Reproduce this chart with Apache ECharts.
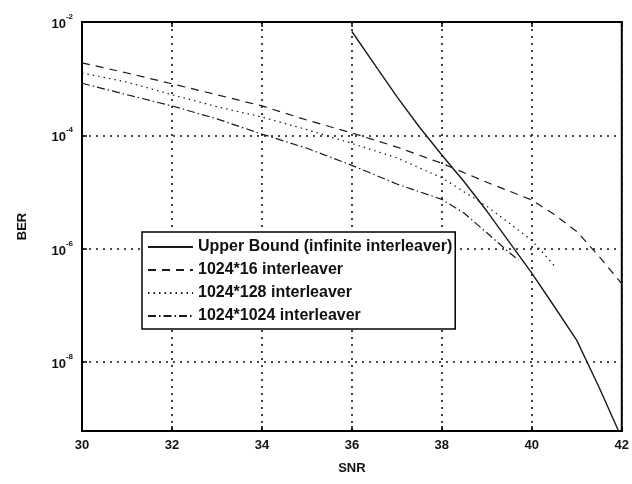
<!DOCTYPE html>
<html>
<head>
<meta charset="utf-8">
<script src="https://cdn.jsdelivr.net/npm/echarts@6/dist/echarts.min.js"></script>
<style>
  html, body { margin: 0; padding: 0; background: #fff; }
  #chart { width: 632px; height: 484px; }
</style>
</head>
<body>
<div id="chart"></div>
<script>
// SNR (dB) sample points and BER
const boundSnr = [36, 36.5, 37, 37.5, 38, 38.5, 39, 39.5, 40, 40.5, 41, 41.5, 42];
const boundBer = [6.8e-3, 1.8e-3, 4.8e-4, 1.4e-4, 4.5e-5, 1.5e-5, 4.6e-6, 1.3e-6, 3.7e-7, 9.5e-8, 2.4e-8, 3.5e-9, 4.5e-10];

const il16Snr = [30, 31, 32, 33, 34, 35, 36, 37, 38, 39, 40, 40.5, 41, 41.5, 42];
const il16Ber = [1.9e-3, 1.26e-3, 8.1e-4, 5.2e-4, 3.3e-4, 1.86e-4, 1.1e-4, 6.2e-5, 3.2e-5, 1.48e-5, 7.2e-6, 4.0e-6, 2.0e-6, 7.2e-7, 2.4e-7];

const il128Snr = [30, 31, 32, 33, 34, 35, 36, 37, 38, 39, 40, 40.5];
const il128Ber = [1.26e-3, 8.7e-4, 5.2e-4, 3.2e-4, 2.1e-4, 1.26e-4, 7.2e-5, 4.0e-5, 1.78e-5, 5.6e-6, 1.4e-6, 5.0e-7];

const il1024Snr = [30, 31, 32, 33, 34, 35, 36, 37, 38, 38.5, 39, 39.5, 39.7];
const il1024Ber = [8.3e-4, 5.2e-4, 3.3e-4, 1.95e-4, 1.05e-4, 5.9e-5, 2.95e-5, 1.38e-5, 7.4e-6, 4.2e-6, 1.9e-6, 8.5e-7, 6.3e-7];

const seriesNames = [
  "Upper Bound (infinite interleaver)",
  "1024*16 interleaver",
  "1024*128 interleaver",
  "1024*1024 interleaver",
];

// y axis runs in log10(BER)
const toPoints = (snr, ber) => snr.map((s, i) => [s, Math.log10(ber[i])]);

const chart = echarts.init(document.getElementById("chart"));

const font = "'Liberation Sans', Arial, sans-serif";
const gridDots = { color: "#111", width: 1.6, type: [2, 5] };

const makeLine = (name, snr, ber, type, width) => ({
  name,
  type: "line",
  data: toPoints(snr, ber),
  showSymbol: false,
  symbol: "none",
  smooth: false,
  itemStyle: { color: "rgba(0,0,0,0)", borderWidth: 0 },
  lineStyle: { color: "#1a1a1a", width, type },
});

const option = {
  backgroundColor: "#fff",
  animation: false,
  textStyle: { fontFamily: font },
  grid: {
    left: 82, right: 10, top: 22, bottom: 53,
    show: true, borderColor: "#000", borderWidth: 2,
  },
  legend: {
    orient: "vertical",
    left: 142,
    top: 232,
    icon: "inherit",
    itemWidth: 45,
    itemHeight: 12,
    itemGap: 7,
    padding: [7, 3, 5, 5],
    backgroundColor: "#fff",
    borderColor: "#000",
    borderWidth: 1.5,
    borderRadius: 0,
    itemStyle: { borderWidth: 0 },
    data: seriesNames,
    textStyle: { fontFamily: font, fontSize: 16, lineHeight: 16, fontWeight: "bold", color: "#111" },
  },
  xAxis: [
    {
      type: "value",
      min: 30, max: 42, interval: 2,
      name: "SNR",
      nameLocation: "middle",
      nameGap: 31,
      nameTextStyle: { fontSize: 13, fontWeight: "bold", color: "#111" },
      axisLine: { lineStyle: { color: "#000", width: 2 } },
      axisTick: { inside: true, length: 5, lineStyle: { color: "#000", width: 1.5 } },
      axisLabel: { fontSize: 13, fontWeight: "bold", color: "#111", margin: 8 },
      splitLine: { show: true, lineStyle: gridDots },
    },
    {
      type: "value",
      position: "top",
      min: 30, max: 42, interval: 2,
      axisLine: { lineStyle: { color: "#000", width: 2 } },
      axisTick: { inside: true, length: 5, lineStyle: { color: "#000", width: 1.5 } },
      axisLabel: { show: false },
      splitLine: { show: false },
    },
  ],
  yAxis: {
    type: "value",
    min: -9.22, max: -2,
    minInterval: 2, maxInterval: 2,
    name: "BER",
    nameLocation: "middle",
    nameGap: 53,
    nameTextStyle: { fontSize: 13, fontWeight: "bold", color: "#111" },
    axisLine: { lineStyle: { color: "#000", width: 2 } },
    axisTick: { inside: true, length: 5, lineStyle: { color: "#000", width: 1.5 } },
    axisLabel: {
      margin: 9,
      formatter: (v) => {
        if (Math.abs(v - Math.round(v)) > 1e-6) return "";
        return "{b|10}{s|" + Math.round(v) + "}";
      },
      rich: {
        b: { fontSize: 13, fontWeight: "bold", color: "#111", fontFamily: font, lineHeight: 18, verticalAlign: "bottom" },
        s: { fontSize: 8, fontWeight: "bold", color: "#111", fontFamily: font, lineHeight: 18, verticalAlign: "top" },
      },
    },
    splitLine: { show: true, lineStyle: gridDots },
  },
  series: [
    makeLine(seriesNames[0], boundSnr, boundBer, "solid", 1.4),
    makeLine(seriesNames[1], il16Snr, il16Ber, [8, 6], 1.2),
    makeLine(seriesNames[2], il128Snr, il128Ber, [1.5, 4], 1.2),
    makeLine(seriesNames[3], il1024Snr, il1024Ber, [8, 3, 1.5, 3], 1.2),
  ],
};

chart.setOption(option);
</script>
</body>
</html>
